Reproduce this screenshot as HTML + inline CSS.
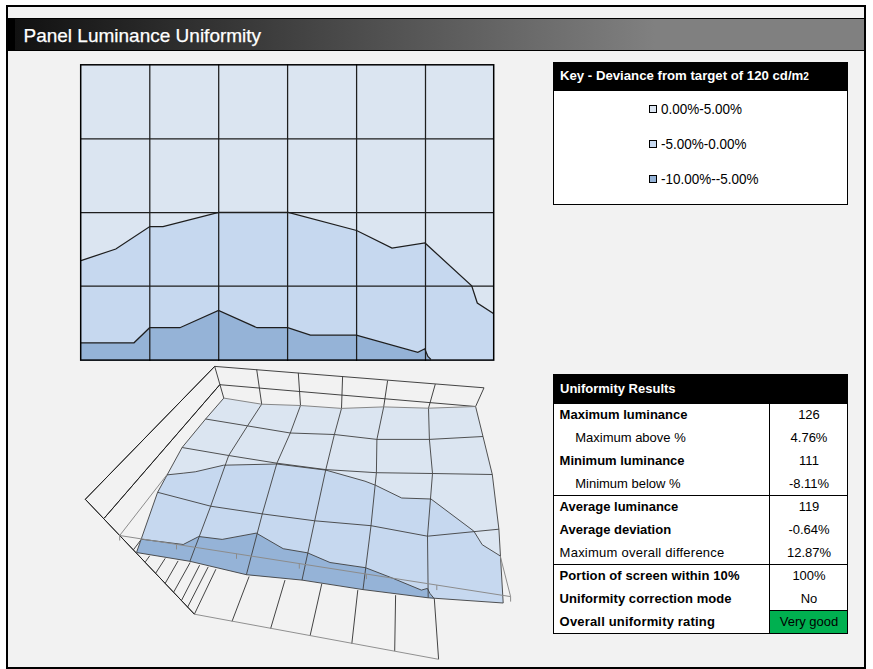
<!DOCTYPE html>
<html><head><meta charset="utf-8">
<style>
html,body{margin:0;padding:0;background:#fff;width:873px;height:669px;overflow:hidden;}
body{position:relative;font-family:"Liberation Sans",sans-serif;color:#000;}
.a{position:absolute;white-space:nowrap;}
#frame{position:absolute;left:6px;top:5px;width:856px;height:660px;border:2px solid #000;background:#f2f2f2;}
#hdr{position:absolute;left:8px;top:18px;width:856px;height:33px;}
#hdr div{position:absolute;left:0;top:0;width:856px;height:31px;border-top:1px solid #000;border-bottom:1px solid #000;background:linear-gradient(to right,#000 0px,#000 7px,#111 7px,#808080 647px,#808080 100%);}
#title{left:23.5px;top:24.8px;font-size:19px;color:#fff;-webkit-text-stroke:0.25px #fff;}
.key{position:absolute;left:553px;top:62px;width:293px;height:141px;border:1px solid #000;background:#fff;}
.kh{position:absolute;left:553px;top:62px;width:295px;height:29px;background:#000;}
.kt{font-size:13.2px;font-weight:bold;color:#fff;}
.lg{font-size:14.5px;transform:scaleX(0.93);transform-origin:0 0;}
.sq{position:absolute;width:6px;height:6px;border:1px solid #000;}
.tbl{position:absolute;left:553px;top:374px;width:293px;height:258px;border:1px solid #000;background:#fff;}
.th{position:absolute;left:553px;top:374px;width:295px;height:30px;background:#000;}
.t{font-size:13px;}
.b{font-weight:bold;}
.v{font-size:13px;text-align:center;width:78px;left:770px;}
</style></head><body>
<div id="frame"></div>
<div id="hdr"><div></div></div>
<div class="a" id="title">Panel Luminance Uniformity</div>

<svg class="a" style="left:0;top:0" width="873" height="669" viewBox="0 0 873 669">
  <!-- 2D chart -->
  <g id="c2d">
    <rect x="80" y="64" width="414.3" height="297" fill="#dbe5f1"/>
    <polygon fill="#c6d8ef" points="81,260.6 115.8,249 149.8,226.6 163,226.6 218.7,212.4 288.2,212.4 356.6,230.5 392,248.1 425,243 471.7,285.8 477.3,303 493.4,313.6 494,361 80,361"/>
    <polygon fill="#95b3d7" points="81,342.8 134,342.8 149.6,327.7 179.9,327.7 218.5,310.5 257,327.7 287.7,327.7 310.4,335.2 356.3,335.2 417.8,352.4 424.8,348.8 427.9,356.4 430.9,359.4 431,361 80,361"/>
    <g stroke="#1e1e1e" stroke-width="1.25" fill="none">
      <path d="M149.8 64V361M218.7 64V361M287.6 64V361M356.6 64V361M425.5 64V361M80 138.9H494M80 212.5H494M80 286.2H494"/>
      <polyline points="81,260.6 115.8,249 149.8,226.6 163,226.6 218.7,212.4 288.2,212.4 356.6,230.5 392,248.1 425,243 471.7,285.8 477.3,303 493.4,313.6"/>
      <polyline points="81,342.8 134,342.8 149.6,327.7 179.9,327.7 218.5,310.5 257,327.7 287.7,327.7 310.4,335.2 356.3,335.2 417.8,352.4 424.8,348.8 427.9,356.4 430.9,359.4"/>
    </g>
    <rect x="80.7" y="64.8" width="413" height="295.3" fill="none" stroke="#000" stroke-width="1.5"/>
  </g>
  <g id="c3d">
<path d="M214.7 366.4 L484 387.8 L475.6 406.5M219.8 384.7 L475.6 406.5M214.7 366.4 L85.3 499.3 L194.4 614.2M438.6 659.3 L434.3 598.7M219.8 384.7 L104.2 518.2M214.7 366.4L223.8 398.1M256.7 369.5L261.7 404.2M298.3 372.9L300.5 405.5M342.6 376.3L341.5 408.4M387.6 380.6L383.7 406.9M435.3 384.1L428.5 408.2M133.4 549.8L141.2 539.5M145.4 561.8L149.7 555.8M155.8 573L165.2 558.4M165.2 583.3L178.1 560.9M173.8 591.9L190.1 562.6M181.5 600.4L199.6 565.2M187.5 607.3L208.2 566.9M194.4 614.2L215.9 569.2M232 621.4L249.1 576.5M270.6 628.6L285 580.1M310.1 635.7L321.8 583.7M351.8 643.8L357.8 590.1M394.7 651.1L395.6 595.2" fill="none" stroke="#3a3a3a" stroke-width="0.95"/>
<path d="M194.4 614.2L438.6 659.3" fill="none" stroke="#909090" stroke-width="1"/>
<path d="M214.7 366.4L85.3 499.3L194.4 614.2M219.8 384.7L104.2 518.2" fill="none" stroke="#202020" stroke-width="1"/>
<polygon points="223.8,398.1 261.7,404.2 300.5,405.5 341.5,408.4 383.7,406.9 428.5,408.2 475.6,406.5 483,436.5 492.3,474.5 498.9,529.2 503.2,603 428.2,597.8 363,589.6 302,580.1 246.4,574.7 189.9,561.3 136.5,552.5 157.6,492.3 182.1,447.5 205.6,419" fill="#dbe5f1"/>
<polygon points="166.8,474.9 183.2,473.2 195.3,471.8 223.6,465.2 276.9,464 325.8,470.1 365,481.2 375.4,485.2 401.7,498 431,499 473.8,531.1 482.2,544.7 500.2,555.9 503.2,603 428.2,597.8 363,589.6 302,580.1 246.4,574.7 189.9,561.3 136.5,552.5 157.6,492.3" fill="#c6d8ef"/>
<polygon points="141.4,539.2 183.2,544.5 198.8,536.5 222.2,539.4 256.3,533.1 283.2,548.7 307.4,552.8 330,562.5 365.5,567.7 392.2,578 421.4,590.1 427.4,588.4 430,593.5 434.3,598.7 428.2,597.8 363,589.6 302,580.1 246.4,574.7 189.9,561.3 136.5,552.5" fill="#95b3d7"/>
<path d="M205.6 419 L247.5 425.9 L290.3 433 L334.4 434.5 L376.9 439.4 L429.4 439.4 L483 436.5M182.1 447.5 L228.7 455.5 L276.9 463.2 L325.8 469.6 L376.4 472.7 L432.5 473.5 L492.3 474.5M157.6 492.3 L210.7 506.2 L262.3 513.9 L314.7 520.8 L371 525.7 L427.5 536.2 L498.9 529.2M136.5 552.5 L189.9 561.3 L246.4 574.7 L302 580.1 L363 589.6 L428.2 597.8 L503.2 603M223.8 398.1 L205.6 419 L182.1 447.5 L157.6 492.3 L136.5 552.5M261.7 404.2 L247.5 425.9 L228.7 455.5 L210.7 506.2 L189.9 561.3M300.5 405.5 L290.3 433 L276.9 463.2 L262.3 513.9 L246.4 574.7M341.5 408.4 L334.4 434.5 L325.8 469.6 L314.7 520.8 L302 580.1M383.7 406.9 L376.9 439.4 L376.4 472.7 L371 525.7 L363 589.6M428.5 408.2 L429.4 439.4 L432.5 473.5 L427.5 536.2 L428.2 597.8M475.6 406.5 L483 436.5 L492.3 474.5 L498.9 529.2 L503.2 603M166.8 474.9 L183.2 473.2 L195.3 471.8 L223.6 465.2 L276.9 464 L325.8 470.1 L365 481.2 L375.4 485.2 L401.7 498 L431 499 L473.8 531.1 L482.2 544.7 L500.2 555.9M141.4 539.2 L183.2 544.5 L198.8 536.5 L222.2 539.4 L256.3 533.1 L283.2 548.7 L307.4 552.8 L330 562.5 L365.5 567.7 L392.2 578 L421.4 590.1 L427.4 588.4 L430 593.5 L434.3 598.7" fill="none" stroke="#404040" stroke-width="0.9"/>
<path d="M223.8 398.1 L261.7 404.2 L300.5 405.5 L341.5 408.4 L383.7 406.9 L428.5 408.2 L475.6 406.5" fill="none" stroke="#7a7a7a" stroke-width="0.9"/>
<path d="M119.7 535.5L510.6 596.6M119.7 535.5L166.8 474.9M500.2 555.9L510.6 596.6M119.7 535.5V540.5M176.5 544.4V549.4M236.5 553.8V558.8M299.3 563.6V568.6M366.4 574.1V579.1M436.8 585.1V590.1M510.6 596.6V601.6" fill="none" stroke="#8c8c8c" stroke-width="1"/>
  </g>
</svg>

<!-- key -->
<div class="key"></div>
<div class="kh"></div>
<div class="a kt" style="left:560px;top:68px">Key - Deviance from target of 120 cd/m<span style="font-size:10px">2</span></div>
<div class="sq" style="left:649px;top:105px;background:#dbe5f1"></div>
<div class="a lg" style="left:661px;top:101.2px">0.00%-5.00%</div>
<div class="sq" style="left:649px;top:140px;background:#c6d8ef"></div>
<div class="a lg" style="left:661px;top:136.1px">-5.00%-0.00%</div>
<div class="sq" style="left:649px;top:175px;background:#95b3d7"></div>
<div class="a lg" style="left:661px;top:170.6px">-10.00%--5.00%</div>

<!-- results table -->
<div class="tbl"></div>
<div class="th"></div>
<div class="a t b" style="left:560px;top:380.8px;color:#fff">Uniformity Results</div>
<div class="a" style="left:769px;top:404px;width:1px;height:229px;background:#000"></div>
<div class="a" style="left:553px;top:495px;width:295px;height:1px;background:#000"></div>
<div class="a" style="left:553px;top:564px;width:295px;height:1px;background:#000"></div>
<div class="a" style="left:770px;top:610px;width:77px;height:22px;border-top:1px solid #000;background:#00b050"></div>
<div class="a t b" style="left:559.6px;top:406.6px">Maximum luminance</div>
<div class="a v" style="top:406.6px">126</div>
<div class="a t" style="left:575.2px;top:429.8px">Maximum above %</div>
<div class="a v" style="top:429.8px">4.76%</div>
<div class="a t b" style="left:559.6px;top:453px">Minimum luminance</div>
<div class="a v" style="top:453px">111</div>
<div class="a t" style="left:575.2px;top:476px">Minimum below %</div>
<div class="a v" style="top:476px">-8.11%</div>
<div class="a t b" style="left:559.6px;top:499px">Average luminance</div>
<div class="a v" style="top:499px">119</div>
<div class="a t b" style="left:559.6px;top:522px">Average deviation</div>
<div class="a v" style="top:522px">-0.64%</div>
<div class="a t" style="left:559.6px;top:545px;letter-spacing:0.24px">Maximum overall difference</div>
<div class="a v" style="top:545px">12.87%</div>
<div class="a t b" style="left:559.6px;top:568px;letter-spacing:0.08px">Portion of screen within 10%</div>
<div class="a v" style="top:568px">100%</div>
<div class="a t b" style="left:559.6px;top:591px;letter-spacing:0.06px">Uniformity correction mode</div>
<div class="a v" style="top:591px">No</div>
<div class="a t b" style="left:559.6px;top:614px;letter-spacing:0.18px">Overall uniformity rating</div>
<div class="a v" style="top:614px">Very good</div>
</body></html>
